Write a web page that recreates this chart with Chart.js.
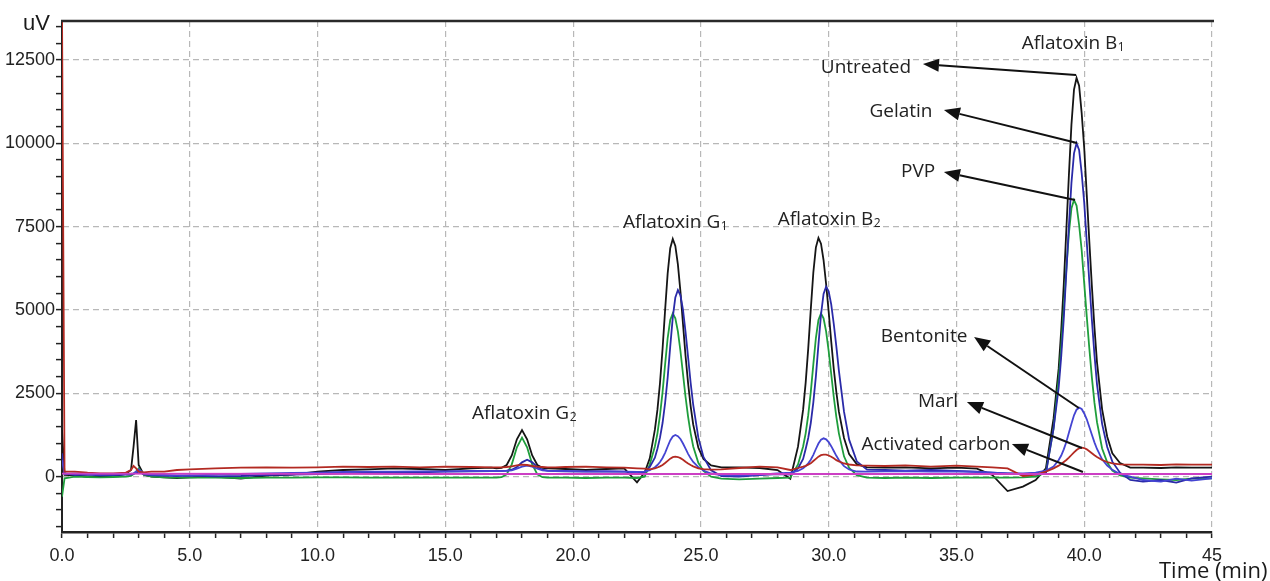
<!DOCTYPE html>
<html>
<head>
<meta charset="utf-8">
<script src="https://cdn.jsdelivr.net/npm/chart.js@4.4.1/dist/chart.umd.min.js"></script>
<style>
  html, body { margin: 0; padding: 0; background: #ffffff; }
  #wrap { width: 1270px; height: 581px; position: relative; }
</style>
</head>
<body>
<div id="wrap"><canvas id="c" width="1270" height="581"></canvas></div>
<script>
// ---------------- DATA ----------------
const times = [
  0, 0.1, 0.5, 1, 1.5, 2, 2.5, 2.7, 2.8, 2.9, 3, 3.2, 3.5, 4, 4.5, 5, 6, 7, 8, 9, 10, 11, 12, 13, 14, 15, 16, 16.8,
  17, 17.2, 17.4, 17.6, 17.8, 18, 18.2, 18.4, 18.6, 18.8, 19, 19.3,
  19.7, 20.5, 21.3, 22, 22.5, 22.8,
  23, 23.2, 23.3, 23.4, 23.5, 23.6, 23.7, 23.8, 23.9, 24, 24.1, 24.2, 24.3, 24.4, 24.5, 24.6, 24.7, 24.9, 25.1, 25.4, 25.8,
  26.5, 27.3, 28, 28.5,
  28.8, 29, 29.1, 29.2, 29.3, 29.4, 29.5, 29.6, 29.7, 29.8, 29.9, 30, 30.1, 30.2, 30.3, 30.4, 30.6, 30.8, 31.1, 31.5,
  32.2, 33, 34, 35, 35.8, 36.4, 37, 37.6, 38.1, 38.5,
  38.8, 39, 39.1, 39.2, 39.3, 39.4, 39.5, 39.6, 39.7, 39.8, 39.9, 40, 40.1, 40.2, 40.3, 40.4, 40.5, 40.7, 40.9, 41.1, 41.4, 41.8,
  42.3, 43, 43.6, 44.2, 45
];

const untreated = [
  1400, 50, 40, 0, 0, 10, 80, 200, 900, 1700, 350, 60, 0, -20, -40, -20, 0, -60, 30, 60, 150, 200, 220, 250, 230, 200, 250, 270,
  250, 265, 350, 635, 1120, 1400, 1120, 635, 350, 265, 250, 240,
  230, 200, 230, 250, -170, 120,
  550, 1410, 2010, 2810, 3830, 5000, 6100, 6855, 7130, 6920, 6370, 5550, 4580, 3620, 2800, 2110, 1560, 870, 535, 340, 280,
  280, 260, 200, -60,
  900, 2010, 2820, 3840, 5020, 6125, 6880, 7160, 6990, 6500, 5780, 4950, 4055, 3230, 2540, 1950, 1160, 675, 375, 280,
  270, 280, 250, 270, 240, 50, -430, -300, -100, 250,
  1740, 3240, 4400, 5760, 7400, 9040, 10560, 11610, 11960, 11730, 10910, 9860, 8450, 7050, 5710, 4480, 3430, 2020, 1200, 700, 410, 270,
  270, 260, 280, 270, 270
];

const gelatin = [
  700, 100, 50, 60, 40, 50, 60, 60, 80, 120, 150, 70, 40, 30, 20, 30, 10, 20, 50, 60, 80, 100, 120, 110, 130, 150, 160, 170,
  170, 175, 184, 208, 290, 430, 510, 430, 290, 208, 184, 170,
  160, 150, 160, 150, 130, 140,
  290, 570, 840, 1170, 1610, 2210, 2970, 3900, 4780, 5380, 5600, 5440, 5000, 4340, 3580, 2810, 2150, 1170, 590, 190, 20,
  0, 50, 80, 60,
  250, 530, 830, 1160, 1610, 2230, 3010, 3960, 4860, 5480, 5700, 5560, 5170, 4580, 3910, 3180, 1950, 1110, 460, 210,
  200, 180, 200, 170, 150, 120, 100, 80, 60, 100,
  1440, 2670, 3610, 4750, 6140, 7525, 8810, 9700, 10000, 9800, 9110, 8220, 7030, 5840, 4700, 3660, 2770, 1585, 890, 450, 120, -100,
  -150, -100, -180, -50, 0
];

const pvp = [
  -600, -50, 0, -10, -20, -10, 0, 20, 80, 150, 250, 60, 0, -20, -30, -30, -30, -40, -30, -30, -20, -20, -30, -30, -30, -30, -30, -30,
  -30, -15, 70, 370, 880, 1170, 880, 370, 70, -15, -30, -30,
  -30, -40, -30, -30, -40, 0,
  365, 905, 1300, 1845, 2535, 3370, 4160, 4700, 4900, 4750, 4360, 3770, 3080, 2390, 1795, 1300, 905, 415, 170, 0, -60,
  -80, -60, -40, -30,
  365, 905, 1300, 1845, 2535, 3370, 4160, 4700, 4900, 4750, 4360, 3770, 3080, 2390, 1795, 1300, 610, 265, 45, -30,
  -40, -30, -40, -30, -30, -30, -30, -20, 0, 120,
  1450, 2930, 3885, 5050, 6220, 7300, 8050, 8300, 8135, 7550, 6800, 5800, 4800, 3845, 2970, 2220, 1635, 845, 430, 180, 35, -30,
  -50, -80, -100, -60, -50
];

const bentonite = [
  500, 80, 100, 80, 60, 70, 80, 90, 100, 150, 220, 100, 60, 50, 40, 40, 60, 80, 100, 110, 120, 140, 150, 150, 160, 160, 170, 170,
  170, 170, 175, 190, 240, 300, 330, 300, 240, 190, 175, 170,
  170, 160, 160, 150, 140, 150,
  195, 285, 350, 440, 560, 715, 905, 1085, 1205, 1250, 1215, 1130, 995, 840, 685, 550, 440, 285, 185, 95, 50,
  30, 60, 100, 120,
  170, 255, 315, 400, 510, 655, 830, 995, 1110, 1150, 1120, 1035, 915, 770, 625, 500, 315, 215, 155, 150,
  160, 170, 150, 160, 140, 120, 100, 100, 120, 180,
  305, 500, 635, 820, 1040, 1315, 1585, 1840, 2010, 2070, 2030, 1895, 1720, 1490, 1255, 1030, 830, 520, 335, 205, 80, 0,
  -100, -150, -60, -120, -50
];

const marl = [
  14000, 150, 150, 120, 100, 100, 120, 200, 320, 250, 150, 130, 150, 150, 200, 220, 250, 270, 280, 270, 280, 300, 290, 300, 280, 300, 290, 280,
  280, 280, 290, 310, 340, 360, 350, 320, 300, 290, 280, 280,
  290, 300, 280, 270, 250, 240,
  220, 250, 275, 310, 350, 410, 475, 540, 585, 600, 590, 555, 510, 450, 395, 350, 310, 250, 225, 210, 220,
  260, 300, 280, 200,
  260, 300, 325, 360, 400, 470, 535, 600, 645, 660, 660, 635, 600, 550, 495, 460, 395, 365, 340, 330,
  320, 340, 300, 330, 300, 280, 250, 20, 60, 150,
  250, 330, 380, 440, 500, 570, 650, 730, 800, 850, 870, 860, 820, 760, 700, 640, 590, 500, 440, 400, 370, 360,
  360, 350, 370, 360, 360
];

const carbonTimes = [0, 15, 30, 45];
const carbon = [90, 80, 80, 80];

const seriesNames = ['Activated carbon', 'Marl', 'Bentonite', 'Gelatin', 'PVP', 'Untreated'];

// axis ticks
const xMin = 0, xMax = 45, xMinorStep = 1, xLabelEvery = 5;
const yMin = -1660, yMax = 13670, yMinorStep = 500, yLabelEvery = 2500;

// annotation texts (positions in data units: minutes, uV)
const noteTexts = ['Untreated', 'Gelatin', 'PVP', 'Bentonite', 'Marl', 'Activated carbon'];
const noteAt    = [[31.46, 12320], [32.83, 11000], [33.5, 9200], [33.73, 4250], [34.28, 2300], [34.2, 1010]];
const arrowFrom = [[39.68, 12050], [39.72, 10010], [39.64, 8300], [39.79, 2060], [39.91, 860], [39.95, 140]];
const arrowTo   = [[33.69, 12380], [34.51, 11000], [34.51, 9140], [35.69, 4190], [35.41, 2240], [37.17, 980]];
const peakMain  = ['Aflatoxin G', 'Aflatoxin G', 'Aflatoxin B', 'Aflatoxin B'];
const peakSub   = ['2', '1', '2', '1'];
const peakAt    = [[18.08, 1940], [23.99, 7670], [30.01, 7755], [39.56, 13040]];

// ---------------- CHART ----------------
const pts = (ts, vs) => ts.map((t, i) => ({ x: t, y: vs[i] }));
function tickList(lo, hi, step) {
  const out = [];
  for (let v = Math.ceil(lo / step) * step; v <= hi + 1e-9; v += step) out.push({ value: Math.round(v * 1000) / 1000 });
  return out;
}
const isMajor = (v, every) => Math.abs(v / every - Math.round(v / every)) < 1e-6;

const tickFont = { family: "'Liberation Sans Narrow', 'Arial Narrow', 'Liberation Sans', Arial, sans-serif", size: 18 };
const noteFamily = "'Open Sans', 'Noto Sans', sans-serif";

function drawArrow(ctx, x1, y1, x2, y2) {
  const a = Math.atan2(y2 - y1, x2 - x1);
  const L = 16, W = 6.5;
  const bx = x2 - L * Math.cos(a), by = y2 - L * Math.sin(a);
  ctx.beginPath(); ctx.moveTo(x1, y1); ctx.lineTo(bx, by); ctx.stroke();
  ctx.beginPath();
  ctx.moveTo(x2, y2);
  ctx.lineTo(bx + W * Math.sin(a), by - W * Math.cos(a));
  ctx.lineTo(bx - W * Math.sin(a), by + W * Math.cos(a));
  ctx.closePath(); ctx.fill();
}

const decorations = {
  id: 'decorations',
  afterDraw(chart) {
    const { ctx, chartArea: ca, scales: { x, y } } = chart;
    ctx.save();
    // top frame line
    ctx.strokeStyle = '#2a2a2a'; ctx.lineWidth = 2.5;
    ctx.beginPath(); ctx.moveTo(ca.left - 1, ca.top); ctx.lineTo(ca.right + 2, ca.top); ctx.stroke();

    // axis captions
    ctx.fillStyle = '#1a1a1a';
    ctx.font = "22px 'Liberation Sans', Arial, sans-serif";
    ctx.textAlign = 'left'; ctx.textBaseline = 'alphabetic';
    ctx.fillText('uV', ca.left - 39, ca.top + 9);
    ctx.font = "22px " + noteFamily;
    ctx.fillText('Time (min)', ca.right - 53, 578);

    // arrows
    ctx.strokeStyle = '#111'; ctx.fillStyle = '#111'; ctx.lineWidth = 2;
    for (let i = 0; i < arrowFrom.length; i++) {
      drawArrow(ctx,
        x.getPixelForValue(arrowFrom[i][0]), y.getPixelForValue(arrowFrom[i][1]),
        x.getPixelForValue(arrowTo[i][0]), y.getPixelForValue(arrowTo[i][1]));
    }

    // series labels
    ctx.fillStyle = '#222';
    ctx.font = "19px " + noteFamily;
    ctx.textAlign = 'center'; ctx.textBaseline = 'alphabetic';
    for (let i = 0; i < noteTexts.length; i++) {
      ctx.fillText(noteTexts[i], x.getPixelForValue(noteAt[i][0]), y.getPixelForValue(noteAt[i][1]) + 6.8);
    }

    // peak names with subscripts
    ctx.textAlign = 'left';
    for (let i = 0; i < peakMain.length; i++) {
      ctx.font = "19px " + noteFamily;
      const w1 = ctx.measureText(peakMain[i]).width;
      ctx.font = "12px " + noteFamily;
      const w2 = ctx.measureText(peakSub[i]).width;
      const cx = x.getPixelForValue(peakAt[i][0]);
      const base = y.getPixelForValue(peakAt[i][1]) + 6.8;
      const x0 = cx - (w1 + w2) / 2;
      ctx.font = "19px " + noteFamily;
      ctx.fillText(peakMain[i], x0, base);
      ctx.font = "12px " + noteFamily;
      ctx.fillText(peakSub[i], x0 + w1 + 0.5, base + 2);
    }
    ctx.restore();
  }
};

const lineStyle = { borderWidth: 1.8, pointRadius: 0, tension: 0, fill: false };

new Chart(document.getElementById('c'), {
  type: 'line',
  data: {
    datasets: [
      { label: seriesNames[0], data: pts(carbonTimes, carbon), borderColor: '#cc3fc4', ...lineStyle },
      { label: seriesNames[1], data: pts(times, marl), borderColor: '#b32a22', ...lineStyle },
      { label: seriesNames[2], data: pts(times, bentonite), borderColor: '#4444d2', ...lineStyle },
      { label: seriesNames[3], data: pts(times, gelatin), borderColor: '#2a2aa8', ...lineStyle },
      { label: seriesNames[4], data: pts(times, pvp), borderColor: '#1f9e3c', ...lineStyle },
      { label: seriesNames[5], data: pts(times, untreated), borderColor: '#151515', ...lineStyle }
    ]
  },
  options: {
    responsive: false,
    animation: false,
    events: [],
    layout: { padding: { top: 21, right: 58, bottom: 0, left: 0 } },
    plugins: { legend: { display: false }, tooltip: { enabled: false } },
    scales: {
      x: {
        type: 'linear', min: xMin, max: xMax,
        afterBuildTicks: (s) => { s.ticks = tickList(xMin, xMax, xMinorStep); },
        ticks: {
          autoSkip: false, maxRotation: 0, minRotation: 0,
          padding: 7, color: '#222', font: tickFont,
          callback: (v) => isMajor(v, xLabelEvery) ? (v === xMax ? String(v) : v.toFixed(1)) : ''
        },
        grid: {
          color: (c) => (c.tick && isMajor(c.tick.value, xLabelEvery)) ? '#b8b8b8' : 'rgba(0,0,0,0)',
          lineWidth: 1.2, tickLength: 6, tickColor: '#222', tickWidth: 1.5, drawTicks: true
        },
        border: { display: true, color: '#222', width: 2.5, dash: [6, 4] },
        afterFit: (s) => { s.height = 49; }
      },
      y: {
        type: 'linear', min: yMin, max: yMax,
        afterBuildTicks: (s) => { s.ticks = tickList(yMin, yMax, yMinorStep); },
        ticks: {
          autoSkip: false, padding: 1, color: '#222', font: tickFont,
          callback: (v) => isMajor(v, yLabelEvery) ? String(v) : ''
        },
        grid: {
          color: (c) => (c.tick && isMajor(c.tick.value, yLabelEvery)) ? '#b8b8b8' : 'rgba(0,0,0,0)',
          lineWidth: 1.2, tickLength: 6, tickColor: '#222', tickWidth: 1.5, drawTicks: true
        },
        border: { display: true, color: '#222', width: 2, dash: [6, 4] },
        afterFit: (s) => { s.width = 62; }
      }
    }
  },
  plugins: [decorations]
});
</script>
</body>
</html>
